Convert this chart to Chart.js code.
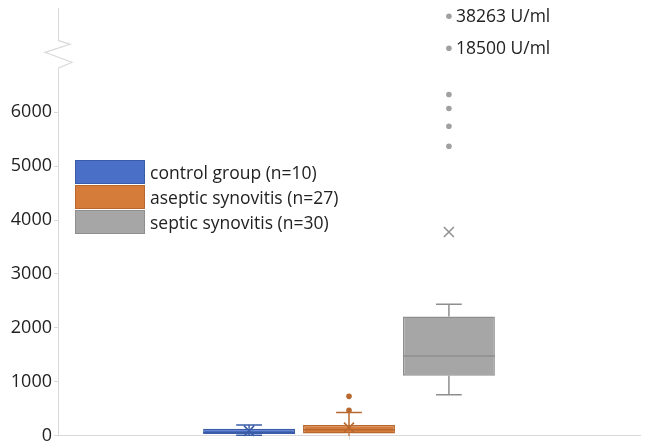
<!DOCTYPE html>
<html>
<head>
<meta charset="utf-8">
<script src="https://cdn.jsdelivr.net/npm/chart.js@4/dist/chart.umd.min.js"></script>
<style>
  body { margin: 0; background: #fff; }
  #wrap { position: relative; width: 647px; height: 444px; }
  #legend { position: absolute; left: 75px; top: 159px; font: 17.5px "Open Sans", sans-serif; color: #222; }
  .row { display: flex; align-items: center; height: 25px; }
  .sw { width: 70px; height: 24px; box-sizing: border-box; border: 1.5px solid; margin-right: 5px; }
</style>
</head>
<body>
<div id="wrap">
  <canvas id="box" width="647" height="444"></canvas>
  <div id="legend"></div>
</div>
<script>
// --- data ---
const groups = ['control group (n=10)', 'aseptic synovitis (n=27)', 'septic synovitis (n=30)'];
const q1 = [30, 40, 1110];
const median = [60, 110, 1480];
const q3 = [130, 200, 2210];
const whiskerLow = [10, 0, 760];
const whiskerHigh = [200, 430, 2440];
const means = [90, 150, 3780];
const outliers = [[], [470, 730], [5370, 5740, 6070, 6330, 18500, 38263]];
const outlierNotes = [[38263, '38263 U/ml'], [18500, '18500 U/ml']];
const yTicks = [0, 1000, 2000, 3000, 4000, 5000, 6000];

const fills = ['#4a6fc6', '#d67c3a', '#a6a6a6'];
const lines = ['#3a5ca8', '#b8682e', '#8e8e8e'];

// --- y scale with a break: 0..7000 linear, then a squeezed part for the big outliers ---
const LOWER_MAX = 7000, LOWER_FRAC = 0.883, UPPER_MIN = 12300, UPPER_MAX = 43200;
class BrokenScale extends Chart.LinearScale {
  splitPixel() { return this.bottom - (this.bottom - this.top) * LOWER_FRAC; }
  getPixelForValue(v) {
    const split = this.splitPixel();
    if (v <= LOWER_MAX) return this.bottom - (v / LOWER_MAX) * (this.bottom - split);
    const t = Math.max(0, (v - UPPER_MIN) / (UPPER_MAX - UPPER_MIN));
    return split - t * (split - this.top);
  }
  getValueForPixel(p) {
    const split = this.splitPixel();
    if (p >= split) return (this.bottom - p) / (this.bottom - split) * LOWER_MAX;
    return UPPER_MIN + (split - p) / (split - this.top) * (UPPER_MAX - UPPER_MIN);
  }
}
BrokenScale.id = 'broken';
BrokenScale.defaults = Chart.LinearScale.defaults;
Chart.register(BrokenScale);

// whiskers, medians, means, outliers, notes
const boxExtras = {
  id: 'boxExtras',
  afterDatasetsDraw(chart) {
    const c = chart.ctx, y = chart.scales.y;
    groups.forEach((g, i) => {
      const el = chart.getDatasetMeta(i).data[0];
      const x = el.x, w = el.width, cap = w * 0.14;
      c.save();
      c.strokeStyle = lines[i]; c.lineWidth = 1.5;
      c.beginPath();
      c.moveTo(x, y.getPixelForValue(q3[i])); c.lineTo(x, y.getPixelForValue(whiskerHigh[i]));
      c.moveTo(x, y.getPixelForValue(q1[i])); c.lineTo(x, y.getPixelForValue(whiskerLow[i]));
      c.moveTo(x - cap, y.getPixelForValue(whiskerHigh[i])); c.lineTo(x + cap, y.getPixelForValue(whiskerHigh[i]));
      if (whiskerLow[i] > 0) {
        c.moveTo(x - cap, y.getPixelForValue(whiskerLow[i])); c.lineTo(x + cap, y.getPixelForValue(whiskerLow[i]));
      }
      c.moveTo(x - w / 2, y.getPixelForValue(median[i])); c.lineTo(x + w / 2, y.getPixelForValue(median[i]));
      const my = y.getPixelForValue(means[i]);
      c.moveTo(x - 5, my - 5); c.lineTo(x + 5, my + 5);
      c.moveTo(x + 5, my - 5); c.lineTo(x - 5, my + 5);
      c.stroke();
      c.fillStyle = i === 2 ? '#a0a0a0' : lines[i];
      outliers[i].forEach(v => {
        c.beginPath(); c.arc(x, y.getPixelForValue(v), 2.8, 0, Math.PI * 2); c.fill();
      });
      if (i === 2) {
        c.fillStyle = '#222'; c.font = '17.5px "Open Sans"'; c.textBaseline = 'middle';
        outlierNotes.forEach(([v, t]) => c.fillText(t, x + 7, y.getPixelForValue(v) + 1));
      }
      c.restore();
    });
  },
  afterDraw(chart) {
    // axis break zigzag
    const c = chart.ctx, y = chart.scales.y, ax = y.right, s = y.splitPixel() - 4;
    c.save();
    c.fillStyle = '#fff'; c.fillRect(ax - 2, s - 14, 4, 28);
    c.strokeStyle = '#d9d9d9'; c.lineWidth = 1.2;
    c.beginPath();
    c.moveTo(ax, s - 14); c.lineTo(ax + 12, s - 10); c.lineTo(ax - 13, s - 2);
    c.lineTo(ax + 14, s + 8); c.lineTo(ax, s + 14);
    c.stroke();
    c.restore();
  }
};

const ctx = document.getElementById('box').getContext('2d');
new Chart(ctx, {
  type: 'bar',
  data: {
    labels: [''],
    datasets: groups.map((g, i) => ({
      label: g, data: [[q1[i], q3[i]]],
      backgroundColor: fills[i], borderColor: lines[i], borderWidth: 1.5, borderSkipped: false,
      categoryPercentage: 0.515, barPercentage: 0.92
    }))
  },
  options: {
    responsive: false, animation: false,
    layout: { padding: { right: 7 } },
    plugins: { legend: { display: false }, tooltip: { enabled: false } },
    scales: {
      x: {
        ticks: { display: false },
        grid: { drawOnChartArea: false, offset: false, tickLength: 4, color: '#d9d9d9' },
        border: { color: '#d9d9d9' }
      },
      y: {
        type: 'broken', min: 0, max: UPPER_MAX,
        afterBuildTicks: s => { s.ticks = yTicks.map(v => ({ value: v })); },
        afterFit: s => { s.width = 58; },
        ticks: {
          color: '#222', padding: 2, callback: v => String(v),
          font: { family: 'Open Sans', size: 18, lineHeight: 0.7 }
        },
        grid: { drawOnChartArea: false, tickLength: 4, color: '#d9d9d9' },
        border: { color: '#d9d9d9' }
      }
    }
  },
  plugins: [boxExtras]
});

// legend
document.getElementById('legend').innerHTML = groups.map((g, i) =>
  `<div class="row"><span class="sw" style="background:${fills[i]};border-color:${lines[i]}"></span>${g}</div>`
).join('');
</script>
</body>
</html>
